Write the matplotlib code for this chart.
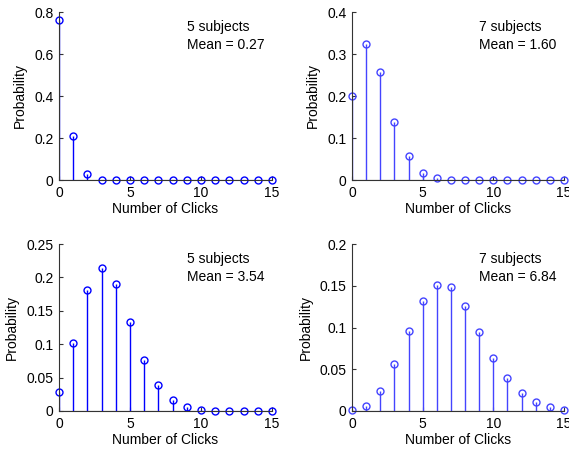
import matplotlib
matplotlib.use('Agg')
import matplotlib.pyplot as plt

clicks = list(range(16))

# probabilities
p_tl = [0.762, 0.209, 0.027, 0.002, 0.0002, 0, 0, 0, 0, 0, 0, 0, 0, 0, 0, 0]
p_tr = [0.201, 0.324, 0.258, 0.137, 0.056, 0.017, 0.005, 0.001, 0.0002, 0, 0, 0, 0, 0, 0, 0]
p_bl = [0.028, 0.102, 0.181, 0.214, 0.19, 0.133, 0.077, 0.039, 0.016, 0.006, 0.0015,
        0.0004, 0.0001, 0, 0, 0]
p_br = [0.001, 0.0056, 0.024, 0.056, 0.096, 0.132, 0.151, 0.148, 0.126, 0.095, 0.064,
        0.039, 0.022, 0.011, 0.005, 0.0016]

subjects = ["5 subjects", "7 subjects", "5 subjects", "7 subjects"]
means = ["Mean = 0.27", "Mean = 1.60", "Mean = 3.54", "Mean = 6.84"]
ylims = [0.8, 0.4, 0.25, 0.2]
yticks = [[0, 0.2, 0.4, 0.6, 0.8], [0, 0.1, 0.2, 0.3, 0.4],
          [0, 0.05, 0.1, 0.15, 0.2, 0.25], [0, 0.05, 0.1, 0.15, 0.2]]
yticklabels = [["0", "0.2", "0.4", "0.6", "0.8"], ["0", "0.1", "0.2", "0.3", "0.4"],
               ["0", "0.05", "0.1", "0.15", "0.2", "0.25"], ["0", "0.05", "0.1", "0.15", "0.2"]]
colors = ["#0000ff", "#4444ff", "#0000ff", "#4444ff"]

plt.rcParams['font.family'] = ['Liberation Sans', 'DejaVu Sans']

W, H = 569, 450
fig = plt.figure(figsize=(W / 100, H / 100), dpi=100)

# axes boxes in pixels: left, top, right, bottom
boxes = [(59, 12, 272, 180), (352, 12, 564, 180),
         (59, 244, 272, 411), (352, 244, 564, 411)]
data = [p_tl, p_tr, p_bl, p_br]

for i in range(4):
    l, t, r, b = boxes[i]
    ax = fig.add_axes([l / W, 1 - b / H, (r - l) / W, (b - t) / H])
    ml, sl, bl = ax.stem(clicks, data[i], linefmt='-', markerfmt='o', basefmt=' ')
    plt.setp(sl, color=colors[i], linewidth=1)
    plt.setp(ml, markerfacecolor='none', markeredgecolor=colors[i],
             markersize=5, markeredgewidth=1)
    ml.set_clip_on(False)
    ax.axhline(0, color='#333333', linewidth=0.8, zorder=0)
    ax.set_xlim(0, 15)
    ax.set_ylim(0, ylims[i])
    ax.set_xticks([0, 5, 10, 15])
    ax.set_yticks(yticks[i])
    ax.set_yticklabels(yticklabels[i])
    for s in ['top', 'right']:
        ax.spines[s].set_visible(False)
    for s in ['left', 'bottom']:
        ax.spines[s].set_color('#333333')
        ax.spines[s].set_linewidth(0.8)
    ax.tick_params(direction='in', length=3, labelsize=10, colors='#333333',
                   labelcolor='black', pad=4)
    ax.set_xlabel("Number of Clicks", fontsize=10, labelpad=2)
    ax.set_ylabel("Probability", fontsize=10, labelpad=5)
    ax.text(0.6, 0.95, subjects[i] + "\n" + means[i], transform=ax.transAxes,
            fontsize=10, va='top', ha='left', linespacing=1.3)

plt.savefig('out.png', dpi=100)
